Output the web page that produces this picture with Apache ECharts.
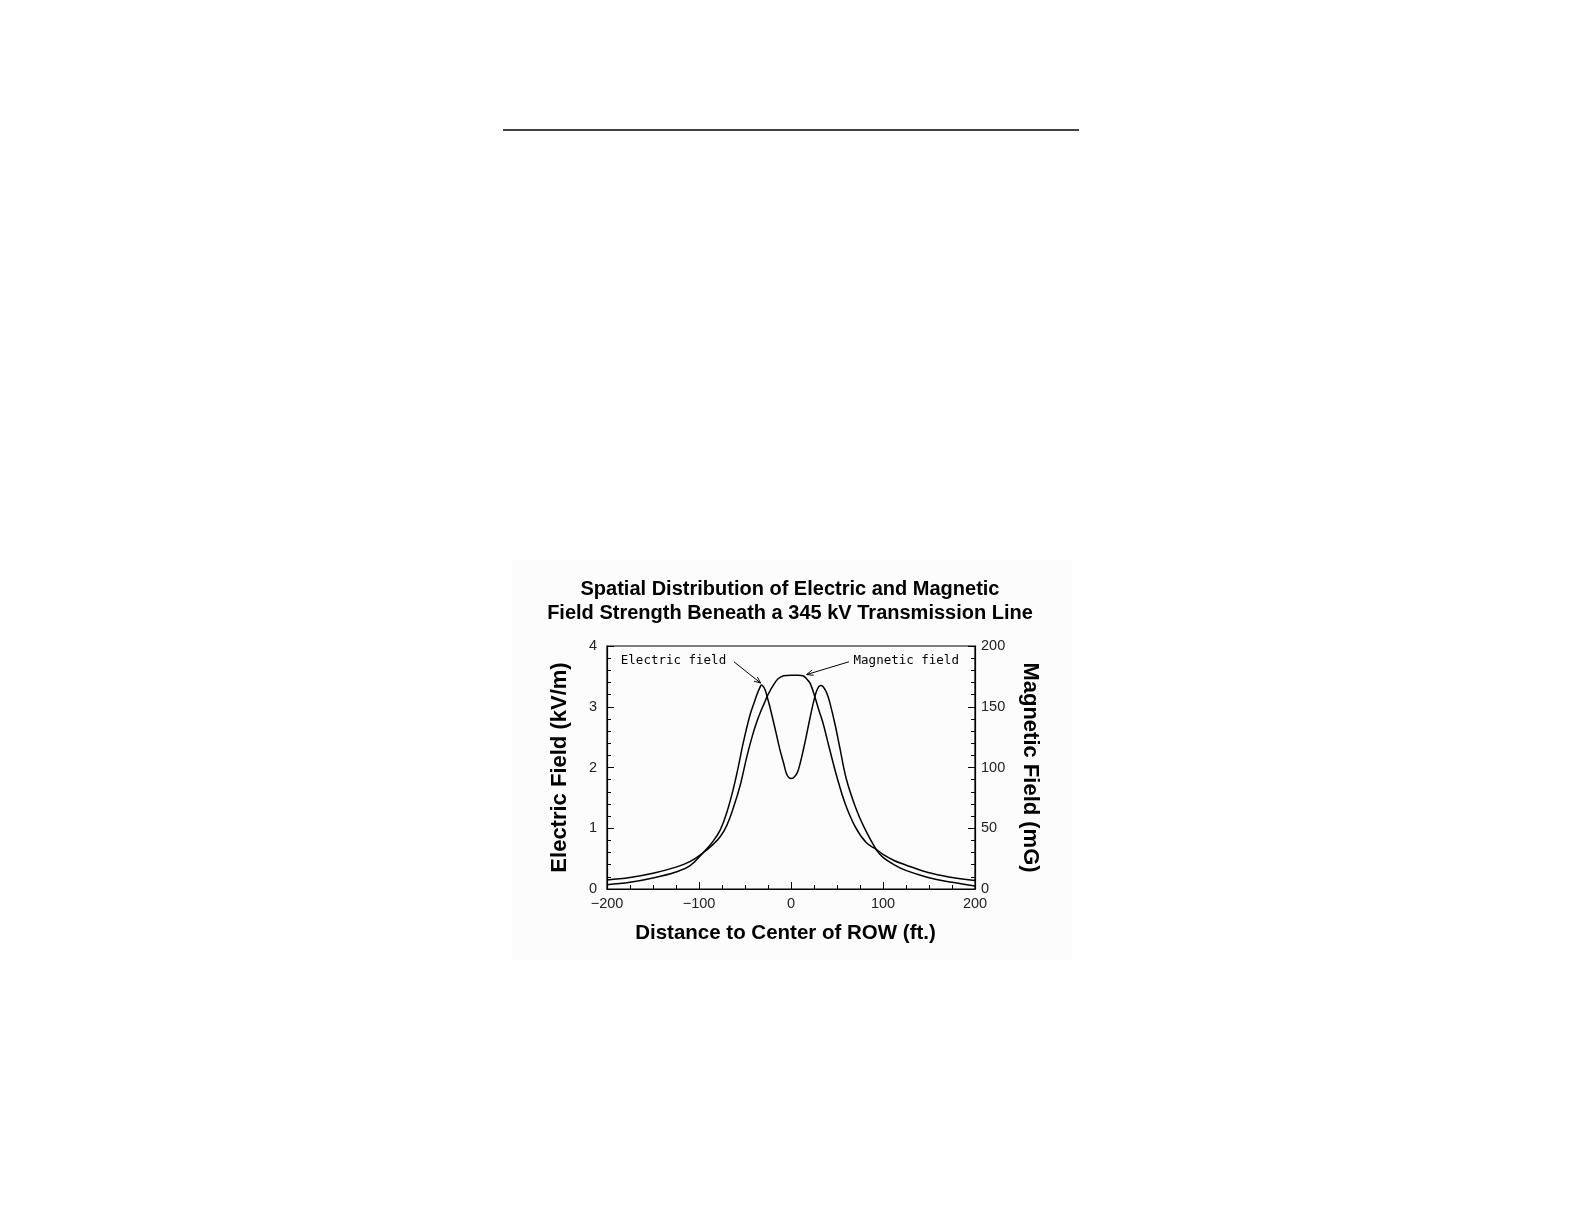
<!DOCTYPE html>
<html>
<head>
<meta charset="utf-8">
<title>Electric and Magnetic Field Strength</title>
<script src="https://cdn.jsdelivr.net/npm/echarts@6/dist/echarts.min.js"></script>
<style>
  html, body { margin: 0; padding: 0; background: #fff; }
  #main { width: 1584px; height: 1224px; }
</style>
</head>
<body>
<div id="main"></div>
<script>
// distance to center of ROW (ft) and electric field (kV/m)
var eDist = [-200, -175, -150, -125, -110, -96, -85, -77, -70, -63, -57, -52, -45, -40, -37, -34, -32, -30, -28, -26,
  -23, -17, -12, -8, -5, -2, 1, 4, 7, 10, 15, 21, 26, 29, 32, 35, 39, 42, 48, 53, 60, 70, 79, 93, 100, 112, 124, 149, 175, 200];
var eField = [0.07, 0.11, 0.18, 0.28, 0.38, 0.59, 0.78, 0.97, 1.25, 1.63, 2.03, 2.40, 2.84, 3.07, 3.20, 3.31, 3.36, 3.33, 3.27, 3.17,
  3.0, 2.62, 2.29, 2.07, 1.90, 1.83, 1.82, 1.85, 1.92, 2.07, 2.40, 2.84, 3.17, 3.30, 3.35, 3.33, 3.22, 3.08, 2.70, 2.33, 1.82, 1.35, 1.03, 0.64, 0.52, 0.40, 0.31, 0.19, 0.11, 0.05];

// distance (ft) and magnetic field (mG)
var mDist = [-200, -175, -150, -125, -110, -96, -85, -77, -70, -63, -55, -48, -42, -37, -33, -29, -25, -19, -14, -8,
  0, 8, 13, 18, 21, 26, 30, 35, 42, 50, 59, 70, 82, 93, 100, 112, 124, 149, 175, 200];
var mField = [7.5, 9.5, 13, 18, 22.5, 29.5, 36.5, 43, 52, 66, 86, 109, 126, 138, 146, 153, 160, 168, 173, 175.5,
  176, 176, 175.5, 172, 169, 158, 148, 136, 115, 92, 70, 51, 38, 32.5, 28.5, 23.5, 20, 13.5, 9.5, 7];

var xTicks = [-200, -100, 0, 100, 200];
var eTicks = [0, 1, 2, 3, 4];
var mTicks = [0, 50, 100, 150, 200];

var titleLines = ['Spatial Distribution of Electric and Magnetic', 'Field Strength Beneath a 345 kV Transmission Line'];

var chart = echarts.init(document.getElementById('main'));

function pairs(xs, ys) {
  return xs.map(function (x, i) { return [x, ys[i]]; });
}

var sans = 'Liberation Sans, Arial, sans-serif';
var tickFont = { color: '#222', fontSize: 14.5, fontFamily: sans };
function nameFont(size, pad) {
  return { color: '#000', fontSize: size, fontWeight: 'bold', fontFamily: sans, padding: pad || 0 };
}

var option = {
  backgroundColor: '#fff',
  animation: false,
  grid: {
    left: 607, top: 646, width: 368, height: 243,
    show: true, borderColor: '#000', borderWidth: 1.2, backgroundColor: 'transparent'
  },
  xAxis: {
    type: 'value',
    min: xTicks[0], max: xTicks[xTicks.length - 1], interval: 100,
    name: 'Distance to Center of ROW (ft.)',
    nameLocation: 'middle', nameGap: 34, nameTextStyle: nameFont(20.5, [0, 11, 0, 0]),
    axisLine: { onZero: false, lineStyle: { color: '#000', width: 1.2 } },
    axisTick: { inside: true, length: 7, lineStyle: { color: '#000' } },
    minorTick: { show: true, splitNumber: 4, length: 4, lineStyle: { color: '#000' } },
    splitLine: { show: false },
    axisLabel: Object.assign({ margin: 7, formatter: function (v) { return String(v).replace('-', '\u2212'); } }, tickFont)
  },
  yAxis: [{
    type: 'value', min: eTicks[0], max: eTicks[eTicks.length - 1], interval: 1,
    name: 'Electric Field (kV/m)',
    nameLocation: 'middle', nameRotate: 90, nameGap: 36, nameTextStyle: nameFont(22),
    axisLine: { show: true, onZero: false, lineStyle: { color: '#000', width: 1.2 } },
    axisTick: { show: true, inside: true, length: 7, lineStyle: { color: '#000' } },
    minorTick: { show: true, splitNumber: 5, length: 4, lineStyle: { color: '#000' } },
    splitLine: { show: false },
    axisLabel: Object.assign({ margin: 10 }, tickFont)
  }, {
    type: 'value', min: mTicks[0], max: mTicks[mTicks.length - 1], interval: 50, position: 'right',
    name: 'Magnetic Field (mG)',
    nameLocation: 'middle', nameRotate: -90, nameGap: 44, nameTextStyle: nameFont(22),
    axisLine: { show: true, onZero: false, lineStyle: { color: '#000', width: 1.2 } },
    axisTick: { show: true, inside: true, length: 7, lineStyle: { color: '#000' } },
    minorTick: { show: true, splitNumber: 5, length: 4, lineStyle: { color: '#000' } },
    splitLine: { show: false },
    axisLabel: Object.assign({ margin: 6 }, tickFont)
  }],
  series: [{
    name: 'Electric field',
    type: 'line', yAxisIndex: 0,
    data: pairs(eDist, eField),
    smooth: 0.4,
    showSymbol: false,
    lineStyle: { color: '#000', width: 1.5 }
  }, {
    name: 'Magnetic field',
    type: 'line', yAxisIndex: 1,
    data: pairs(mDist, mField),
    smooth: 0.4,
    showSymbol: false,
    lineStyle: { color: '#000', width: 1.5 }
  }]
};
chart.setOption(option);

// annotations in data space (ft, kV/m)
var notes = [
  { text: 'Electric field', at: [-185, 3.76], from: [-62, 3.74], to: [-33, 3.39] },
  { text: 'Magnetic field', at: [68, 3.76], from: [63, 3.74], to: [17, 3.53] }
];

function px(p) { return chart.convertToPixel({ gridIndex: 0 }, p); }

var titleFont = 'bold 20px "Liberation Sans", Arial, sans-serif';
var graphics = [
  { type: 'rect', z: -10, silent: true, shape: { x: 512, y: 560, width: 560, height: 400 }, style: { fill: '#fcfcfc' } },
  { type: 'line', shape: { x1: 503, y1: 130, x2: 1079, y2: 130 }, style: { stroke: '#000', lineWidth: 1.6 } },
  { type: 'text', x: 790, y: 589, style: { text: titleLines[0], textAlign: 'center', textVerticalAlign: 'middle', fill: '#000', font: titleFont } },
  { type: 'text', x: 790, y: 613, style: { text: titleLines[1], textAlign: 'center', textVerticalAlign: 'middle', fill: '#000', font: titleFont } }
];

notes.forEach(function (n) {
  var a = px(n.at), s = px(n.from), e = px(n.to);
  graphics.push({ type: 'text', x: a[0], y: a[1], style: { text: n.text, textVerticalAlign: 'middle', fill: '#000', font: '12.5px "DejaVu Sans Mono", monospace' } });
  graphics.push({ type: 'line', shape: { x1: s[0], y1: s[1], x2: e[0], y2: e[1] }, style: { stroke: '#000', lineWidth: 1 } });
  var ang = Math.atan2(e[1] - s[1], e[0] - s[0]), L = 7, w = 0.4;
  graphics.push({
    type: 'polyline',
    shape: { points: [
      [e[0] - L * Math.cos(ang - w), e[1] - L * Math.sin(ang - w)],
      [e[0], e[1]],
      [e[0] - L * Math.cos(ang + w), e[1] - L * Math.sin(ang + w)]
    ] },
    style: { stroke: '#000', lineWidth: 1, fill: null }
  });
});

chart.setOption({ graphic: graphics });
</script>
</body>
</html>
